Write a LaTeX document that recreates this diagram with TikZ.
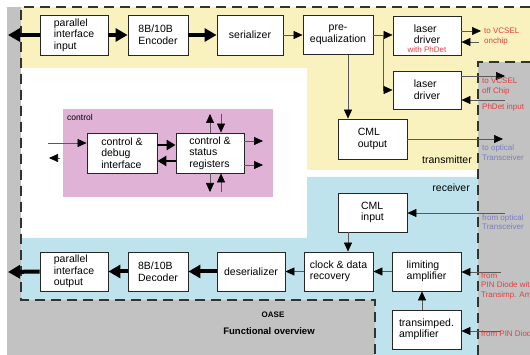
\documentclass[tikz,border=0pt]{standalone}
\usepackage{fontspec}
\setmainfont{Liberation Sans}
\usetikzlibrary{arrows.meta}
\definecolor{ylw}{HTML}{FAF2BE}
\definecolor{blu}{HTML}{BEE3EC}
\definecolor{pnk}{HTML}{E0B2D6}
\definecolor{gry}{HTML}{C2C2C2}
\definecolor{rtxt}{HTML}{E0403F}
\definecolor{btxt}{HTML}{7A7EC0}
\begin{document}
\begin{tikzpicture}[x=1pt,y=-1pt,
  font=\fontsize{10.5}{11.5}\selectfont,
  box/.style={draw=black!85, line width=0.9pt, fill=white, align=left, inner sep=0pt},
  arr/.style={draw=black!65, line width=0.6pt, -{Triangle[length=9pt,width=8pt,color=black]}},
  tarr/.style={draw=black, line width=4pt, -{Triangle[length=12pt,width=13pt]}},
  carr/.style={draw=black, line width=2.5pt, -{Triangle[length=9pt,width=10pt]}},
  rlab/.style={text=rtxt, font=\fontsize{8}{9.5}\selectfont, align=left, anchor=west, inner sep=0pt},
  blab/.style={text=btxt, font=\fontsize{8}{9.5}\selectfont, align=left, anchor=west, inner sep=0pt},
  outline/.style={draw=black!80, line width=1.6pt, dash pattern=on 10pt off 6pt}
]
\useasboundingbox (0,0) rectangle (530,355);
\clip (0,0) rectangle (530,355);
\fill[white] (0,0) rectangle (530,355);
% gray areas
\fill[gry] (7,7) rectangle (21,355);
\fill[gry] (7,300) rectangle (375,355);
\fill[gry] (478,62) rectangle (530,355);
% transmitter (yellow)
\fill[ylw] (21,7) -- (530,7) -- (530,62) -- (478,62) -- (478,170) -- (307,170) -- (307,68) -- (21,68) -- cycle;
% receiver (blue)
\fill[blu] (307,177) -- (478,177) -- (478,355) -- (375,355) -- (375,300) -- (21,300) -- (21,238) -- (307,238) -- cycle;
% control (pink)
\fill[pnk] (63,109) rectangle (273,197);
% chip outline
\draw[outline] (530,7) -- (21,7) -- (21,300) -- (375,300) -- (375,355);
\draw[outline] (478,355) -- (478,62) -- (530,62);

% boxes - transmitter
\node[box, minimum width=68pt, minimum height=40pt] (pii) at (74,35) {parallel\\interface\\input};
\node[box, minimum width=60pt, minimum height=40pt] (enc) at (158,35) {8B/10B\\Encoder};
\node[box, minimum width=66pt, minimum height=40pt] (ser) at (250,35) {serializer};
\node[box, minimum width=70pt, minimum height=39pt, align=center] (peq) at (338,35) {pre-\\equalization};
\node[box, minimum width=68pt, minimum height=39pt] (ld1) at (427,35.5) {};
\node[align=left, inner sep=0pt] (ld1t) at (427,34.5) {laser\\driver};
\node[text=rtxt, font=\fontsize{8}{9}\selectfont, inner sep=0pt] (ld1r) at (427,49.5) {with PhDet};
\node[box, minimum width=68pt, minimum height=38pt] (ld2) at (427,90) {laser\\driver};
\node[box, minimum width=69pt, minimum height=40pt] (cmlo) at (372.5,139) {CML\\output};
% receiver
\node[box, minimum width=69pt, minimum height=39pt] (cmli) at (372.5,212.5) {CML\\input};
\node[box, minimum width=69pt, minimum height=39pt] (cdr) at (338.5,271.5) {clock \& data\\recovery};
\node[box, minimum width=69pt, minimum height=39pt] (lim) at (426.5,271.5) {limiting\\amplifier};
\node[box, minimum width=69pt, minimum height=39pt] (tia) at (426.5,329.5) {transimped.\\amplifier};
\node[box, minimum width=68pt, minimum height=39pt] (des) at (251,271.5) {deserializer};
\node[box, minimum width=60pt, minimum height=39pt] (dec) at (158,271.5) {8B/10B\\Decoder};
\node[box, minimum width=68pt, minimum height=39pt] (pio) at (74,271.5) {parallel\\interface\\output};
% control
\node[box, minimum width=70pt, minimum height=40pt] (cdi) at (122,153) {control \&\\debug\\interface};
\node[box, minimum width=68pt, minimum height=40pt] (csr) at (210,153) {control \&\\status\\registers};

% coordinates
\coordinate (lout1) at (8,35);
\coordinate (lout2) at (8,272);
\coordinate (br) at (383,35);
\coordinate (px) at (348,0);
\coordinate (pt) at (422,0);
\coordinate (v1) at (481,31);
\coordinate (v1b) at (479,42);
\coordinate (v2) at (505,76);
\coordinate (v2b) at (505,100);
\coordinate (oo) at (503,139);
\coordinate (oi) at (505,213);
\coordinate (pd1) at (501,272);
\coordinate (pd2) at (501,331);
\coordinate (ci1) at (48,143);
\coordinate (co1a) at (60,158);
\coordinate (co1b) at (49,158);
\coordinate (cm1) at (0,145);
\coordinate (cm2) at (0,161);
\coordinate (ct1) at (210,114);
\coordinate (ct2) at (221,114);
\coordinate (cb1) at (210,192);
\coordinate (cb2) at (221,192);
\coordinate (cr1) at (263,141);
\coordinate (cr2) at (263,165);

% transmitter arrows
\draw[tarr] (pii.west) -- (lout1);
\draw[tarr] (pii.east) -- (enc.west);
\draw[tarr] (enc.east) -- (ser.west);
\draw[arr] (ser.east) -- (peq.west);
\draw[arr] (peq.east) -- (ld1.west |- peq.east);
\draw[arr] (br) |- (ld2.west);
\draw[arr] (peq.south -| px) -- (cmlo.north -| px);
\draw[arr] (ld1.east |- v1) -- (v1);
\draw[arr] (v1b) -- (ld1.east |- v1b);
\draw[arr] (ld2.east |- v2) -- (v2);
\draw[arr] (v2b) -- (ld2.east |- v2b);
\draw[arr] (cmlo.east |- oo) -- (oo);
% receiver arrows
\draw[arr] (oi) -- (cmli.east |- oi);
\draw[arr] (cmli.south -| px) -- (cdr.north -| px);
\draw[arr] (pd1) -- (lim.east |- pd1);
\draw[arr] (pd2) -- (tia.east |- pd2);
\draw[arr] (tia.north -| pt) -- (lim.south -| pt);
\draw[arr] (lim.west) -- (cdr.east);
\draw[arr] (cdr.west) -- (des.east);
\draw[tarr] (des.west) -- (dec.east);
\draw[tarr] (dec.west) -- (pio.east);
\draw[tarr] (pio.west) -- (lout2);
% control arrows
\draw[arr] (ci1) -- (cdi.west |- ci1);
\draw[arr] (co1a) -- (co1b);
\draw[carr] (cdi.east |- cm1) -- (csr.west |- cm1);
\draw[carr] (csr.west |- cm2) -- (cdi.east |- cm2);
\draw[arr] (csr.north -| ct1) -- (ct1);
\draw[arr] (ct2) -- (csr.north -| ct2);
\draw[arr] (csr.south -| cb1) -- (cb1);
\draw[arr] (cb2) -- (csr.south -| cb2);
\draw[arr] (csr.east |- cr1) -- (cr1);
\draw[arr] (csr.east |- cr2) -- (cr2);

% labels
\node[anchor=west, font=\fontsize{8.5}{10}\selectfont, inner sep=0pt] (ctl) at (67,117) {control};
\node[anchor=east, inner sep=0pt] (tx) at (472,160) {transmitter};
\node[anchor=east, inner sep=0pt] (rx) at (470,188) {receiver};
\node[font=\bfseries\fontsize{8}{9}\selectfont, inner sep=0pt] (oase) at (273,315) {OASE};
\node[font=\bfseries\fontsize{9.5}{11}\selectfont, inner sep=0pt] (fo) at (269,331) {Functional overview};

\node[rlab] (l1) at (484,36.5) {to VCSEL\\onchip};
\node[rlab] (l2) at (482,86.5) {to VCSEL\\off Chip};
\node[rlab] (l3) at (482,107) {PhDet input};
\node[blab] (l4) at (482,152.5) {to optical\\Transceiver};
\node[blab] (l5) at (482,222) {from optical\\Transceiver};
\node[rlab] (l6) at (481,285.5) {from\\PIN Diode with\\Transimp. Amp};
\node[rlab] (l7) at (481,334) {from PIN Diode};
\end{tikzpicture}
\end{document}
